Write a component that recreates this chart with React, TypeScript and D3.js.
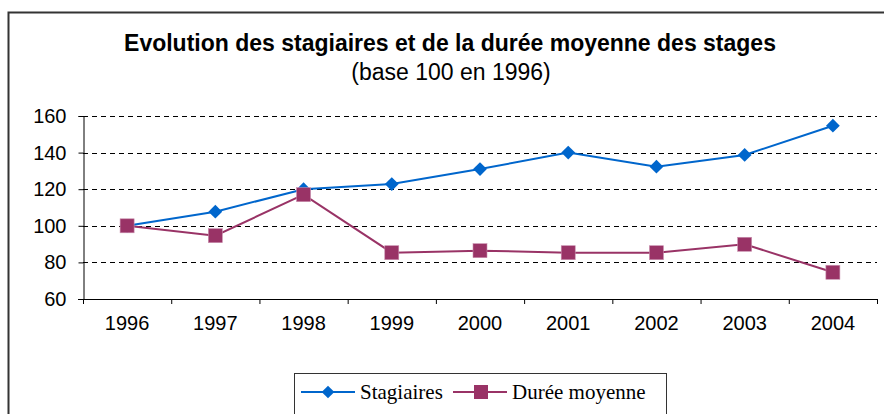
import React, { useEffect, useRef } from "react";
import * as d3 from "d3";

const years = ["1996", "1997", "1998", "1999", "2000", "2001", "2002", "2003", "2004"];
const stagiaires = [100, 107.7, 120, 122.8, 131, 140, 132.3, 138.7, 154.7];
const dureeMoyenne = [100, 94.6, 117, 85.3, 86.4, 85.3, 85.3, 89.9, 74.6];
const yTicks = [60, 80, 100, 120, 140, 160];

const BLUE = "#0066cc";
const MAROON = "#993366";

const App: React.FC = () => {
  const svgRef = useRef<SVGSVGElement | null>(null);

  useEffect(() => {
    const width = 884, height = 414;
    const svg = d3.select(svgRef.current).attr("width", width).attr("height", height);
    svg.selectAll("*").remove();

    const sans = "'Liberation Sans', Arial, sans-serif";
    const serif = "'Liberation Serif', 'Times New Roman', serif";

    // outer frame
    svg.append("rect")
      .attr("x", 8.5).attr("y", 12.5)
      .attr("width", 900).attr("height", 500)
      .attr("fill", "white").attr("stroke", "#333").attr("stroke-width", 2);

    svg.append("text")
      .attr("x", 450).attr("y", 51)
      .attr("text-anchor", "middle")
      .attr("font-family", sans).attr("font-size", 23).attr("font-weight", "bold")
      .text("Evolution des stagiaires et de la durée moyenne des stages");

    svg.append("text")
      .attr("x", 451).attr("y", 80)
      .attr("text-anchor", "middle")
      .attr("font-family", sans).attr("font-size", 23)
      .text("(base 100 en 1996)");

    const left = 83, right = 877, top = 116, bottom = 299;

    const x = d3.scaleBand().domain(years).range([left, right]);
    const y = d3.scaleLinear().domain([60, 160]).range([bottom, top]);

    // dashed gridlines
    svg.append("g")
      .selectAll("line")
      .data(yTicks.filter(t => t > 60))
      .join("line")
      .attr("x1", left).attr("x2", right)
      .attr("y1", d => Math.round(y(d)) + 0.5).attr("y2", d => Math.round(y(d)) + 0.5)
      .attr("stroke", "#000").attr("stroke-dasharray", "5,4");

    const yAxis = svg.append("g")
      .attr("transform", `translate(${left + 0.5},0)`)
      .call(d3.axisLeft(y).tickValues(yTicks).tickSize(5).tickPadding(12));
    yAxis.select(".domain").attr("stroke", "#000");
    yAxis.selectAll("text").attr("font-family", sans).attr("font-size", 20).attr("fill", "#000");

    const xAxis = svg.append("g")
      .attr("transform", `translate(0,${bottom + 0.5})`)
      .call(d3.axisBottom(x).tickSize(0).tickPadding(16));
    xAxis.select(".domain").remove();
    xAxis.selectAll("text").attr("font-family", sans).attr("font-size", 20).attr("fill", "#000");

    svg.append("line")
      .attr("x1", left - 5).attr("x2", right)
      .attr("y1", bottom + 0.5).attr("y2", bottom + 0.5)
      .attr("stroke", "#000");
    svg.append("g")
      .selectAll("line")
      .data(d3.range(years.length + 1))
      .join("line")
      .attr("x1", i => left + i * x.bandwidth() + 0.5)
      .attr("x2", i => left + i * x.bandwidth() + 0.5)
      .attr("y1", bottom).attr("y2", bottom + 5)
      .attr("stroke", "#000");

    const cx = (i: number) => x(years[i])! + x.bandwidth() / 2;
    const line = d3.line<number>().x((_, i) => cx(i)).y(d => y(d));

    svg.append("path").datum(dureeMoyenne)
      .attr("fill", "none").attr("stroke", MAROON).attr("stroke-width", 2)
      .attr("d", line);
    svg.append("path").datum(stagiaires)
      .attr("fill", "none").attr("stroke", BLUE).attr("stroke-width", 2)
      .attr("d", line);

    // diamonds = rotated squares
    svg.append("g").selectAll("path")
      .data(stagiaires)
      .join("path")
      .attr("transform", (d, i) => `translate(${cx(i)},${y(d)}) rotate(45)`)
      .attr("d", d3.symbol().type(d3.symbolSquare).size(95)())
      .attr("fill", BLUE);

    svg.append("g").selectAll("rect")
      .data(dureeMoyenne)
      .join("rect")
      .attr("x", (d, i) => cx(i) - 7).attr("y", d => y(d) - 7)
      .attr("width", 14).attr("height", 14)
      .attr("fill", MAROON).attr("stroke", "#c98fae").attr("stroke-width", 0.6);

    // legend
    const lg = svg.append("g");
    lg.append("rect")
      .attr("x", 294.5).attr("y", 373.5).attr("width", 372).attr("height", 60)
      .attr("fill", "white").attr("stroke", "#333").attr("stroke-width", 1);
    const ly = 392;
    lg.append("line").attr("x1", 301).attr("x2", 355).attr("y1", ly).attr("y2", ly)
      .attr("stroke", BLUE).attr("stroke-width", 2);
    lg.append("path").attr("transform", `translate(328,${ly}) rotate(45)`)
      .attr("d", d3.symbol().type(d3.symbolSquare).size(80)()).attr("fill", BLUE);
    lg.append("text").attr("x", 360).attr("y", ly + 7)
      .attr("font-family", serif).attr("font-size", 21).text("Stagiaires");
    lg.append("line").attr("x1", 453).attr("x2", 507).attr("y1", ly).attr("y2", ly)
      .attr("stroke", MAROON).attr("stroke-width", 2);
    lg.append("rect").attr("x", 474).attr("y", ly - 7).attr("width", 14).attr("height", 14)
      .attr("fill", MAROON);
    lg.append("text").attr("x", 512).attr("y", ly + 7)
      .attr("font-family", serif).attr("font-size", 21).text("Durée moyenne");
  }, []);

  return <svg ref={svgRef} style={{ position: "absolute", left: 0, top: 0 }}></svg>;
};

export default App;
